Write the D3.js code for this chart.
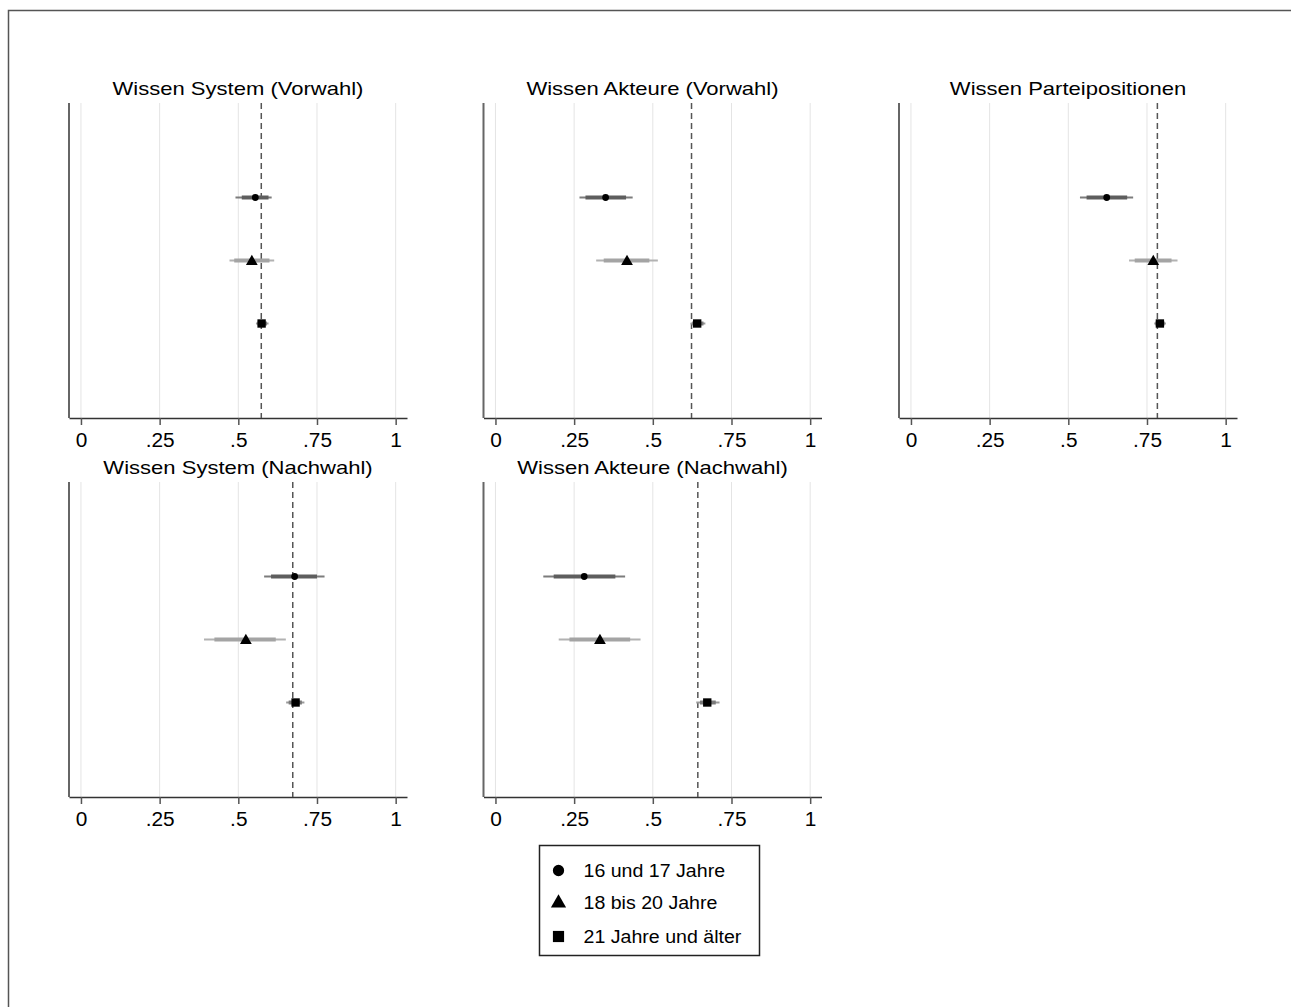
<!DOCTYPE html>
<html>
<head>
<meta charset="utf-8">
<script src="https://cdnjs.cloudflare.com/ajax/libs/d3/7.8.5/d3.min.js"></script>
<style>
  body { margin: 0; background: #fff; }
  svg text { font-family: "Liberation Sans", Arial, sans-serif; fill: #000; }
</style>
</head>
<body>
<svg width="1291" height="1007"></svg>
<script>
// panel titles, in drawing order (row by row)
var panelTitles = ["Wissen System (Vorwahl)", "Wissen Akteure (Vorwahl)", "Wissen Parteipositionen",
                   "Wissen System (Nachwahl)", "Wissen Akteure (Nachwahl)"];
var groups = ["16 und 17 Jahre", "18 bis 20 Jahre", "21 Jahre und älter"];
var xTicks = [0, 0.25, 0.5, 0.75, 1];
var xTickLabels = ["0", ".25", ".5", ".75", "1"];

// overall mean (dashed line) per panel
var refLine = [0.573, 0.623, 0.783, 0.673, 0.643];

// 16 und 17 Jahre
var est16   = [0.554, 0.350, 0.622, 0.679, 0.282];
var outLo16 = [0.491, 0.267, 0.537, 0.582, 0.152];
var outHi16 = [0.606, 0.436, 0.706, 0.774, 0.412];
var inLo16  = [0.511, 0.286, 0.558, 0.604, 0.185];
var inHi16  = [0.596, 0.415, 0.687, 0.750, 0.381];

// 18 bis 20 Jahre
var est18   = [0.543, 0.418, 0.770, 0.524, 0.332];
var outLo18 = [0.472, 0.320, 0.693, 0.391, 0.201];
var outHi18 = [0.614, 0.516, 0.847, 0.651, 0.461];
var inLo18  = [0.487, 0.344, 0.711, 0.424, 0.235];
var inHi18  = [0.599, 0.489, 0.828, 0.619, 0.428];

// 21 Jahre und älter
var est21   = [0.574, 0.641, 0.791, 0.682, 0.673];
var outLo21 = [0.556, 0.620, 0.773, 0.652, 0.638];
var outHi21 = [0.596, 0.667, 0.810, 0.710, 0.712];
var inLo21  = [0.561, 0.625, 0.777, 0.660, 0.650];
var inHi21  = [0.591, 0.661, 0.806, 0.702, 0.700];

var series = [
    { est: est16, outLo: outLo16, outHi: outHi16, inLo: inLo16, inHi: inHi16, shape: "circle",
      thick: "#5e5e5e", thin: "#7c7c7c" },
    { est: est18, outLo: outLo18, outHi: outHi18, inLo: inLo18, inHi: inHi18, shape: "triangle",
      thick: "#a4a4a4", thin: "#b2b2b2" },
    { est: est21, outLo: outLo21, outHi: outHi21, inLo: inLo21, inHi: inHi21, shape: "square",
      thick: "#7a7a7a", thin: "#9a9a9a" }
];

var svg = d3.select("svg");

// outer frame (cut off at right and bottom like the source)
svg.append("rect")
    .attr("x", 8.5).attr("y", 10.5)
    .attr("width", 1300).attr("height", 1020)
    .attr("fill", "none").attr("stroke", "#555").attr("stroke-width", 1.5);

var colLeft = [69, 483.5, 899];
var rowTop = [103, 482];
var plotW = 338, plotH = 315;

var x = d3.scaleLinear().domain([-0.038, 1.036]).range([0, plotW]);
var y = d3.scaleLinear().domain([-0.5, 4.5]).range([0, plotH]);

function stretchText(sel, sx) {
    sel.attr("transform", function() {
        var t = d3.select(this).attr("data-t") || "";
        return t + " scale(" + sx + ",1)";
    });
}

function markerPath(shape, size) {
    var sym = shape == "circle" ? d3.symbolCircle : shape == "triangle" ? d3.symbolTriangle : d3.symbolSquare;
    return d3.symbol().type(sym).size(size)();
}

panelTitles.forEach(function(title, p) {
    var col = p % 3, row = Math.floor(p / 3);
    var g = svg.append("g").attr("transform", "translate(" + colLeft[col] + "," + rowTop[row] + ")");

    // title
    g.append("text")
        .attr("data-t", "translate(" + (plotW / 2) + ",-8.5)")
        .attr("text-anchor", "middle")
        .style("font-size", "19px")
        .text(title)
        .call(stretchText, 1.16);

    // grid lines
    g.selectAll(".grid").data(xTicks).enter().append("line")
        .attr("x1", function(d) { return x(d); })
        .attr("x2", function(d) { return x(d); })
        .attr("y1", 0).attr("y2", plotH)
        .attr("stroke", "#e4e4e4").attr("stroke-width", 1);

    // x axis
    var ax = g.append("g").attr("transform", "translate(0," + plotH + ")")
        .call(d3.axisBottom(x).tickValues(xTicks)
            .tickFormat(function(d, i) { return xTickLabels[i]; })
            .tickSizeOuter(0).tickSizeInner(7).tickPadding(8));
    ax.select(".domain").attr("stroke", "#333").attr("stroke-width", 1.5);
    ax.selectAll(".tick line").attr("stroke", "#555").attr("stroke-width", 1.5);
    ax.selectAll(".tick text")
        .style("font-size", "19.5px").style("font-family", "Liberation Sans, Arial, sans-serif")
        .attr("fill", "#000")
        .attr("transform", "scale(1.07,1)");

    // y axis line (no ticks)
    g.append("line")
        .attr("x1", 0).attr("x2", 0).attr("y1", 0).attr("y2", plotH)
        .attr("stroke", "#666").attr("stroke-width", 2);

    // reference (dashed) line
    g.append("line")
        .attr("x1", x(refLine[p])).attr("x2", x(refLine[p]))
        .attr("y1", 0).attr("y2", plotH)
        .attr("stroke", "#555").attr("stroke-width", 1.5)
        .attr("stroke-dasharray", "6,4");

    series.forEach(function(s, i) {
        var cy = y(i + 1);
        g.append("line")
            .attr("x1", x(s.outLo[p])).attr("x2", x(s.outHi[p]))
            .attr("y1", cy).attr("y2", cy)
            .attr("stroke", s.thin).attr("stroke-width", 2);
        g.append("line")
            .attr("x1", x(s.inLo[p])).attr("x2", x(s.inHi[p]))
            .attr("y1", cy).attr("y2", cy)
            .attr("stroke", s.thick).attr("stroke-width", 4);
        var size = s.shape == "circle" ? 36 : s.shape == "triangle" ? 60 : 70;
        g.append("path")
            .attr("d", markerPath(s.shape, size))
            .attr("transform", "translate(" + x(s.est[p]) + "," + (cy + (s.shape == "triangle" ? 1 : 0)) + ")")
            .attr("fill", "#000");
    });
});

// legend
var lg = svg.append("g").attr("transform", "translate(539.5,845.5)");
lg.append("rect")
    .attr("width", 220).attr("height", 110)
    .attr("fill", "#fff").attr("stroke", "#222").attr("stroke-width", 1.5);
var legendY = [25, 56.5, 91];
groups.forEach(function(name, i) {
    var shape = series[i].shape;
    var size = shape == "circle" ? 100 : shape == "triangle" ? 100 : 125;
    lg.append("path")
        .attr("d", markerPath(shape, size))
        .attr("transform", "translate(19," + (legendY[i] + (shape == "triangle" ? 1 : 0)) + ")")
        .attr("fill", "#000");
    lg.append("text")
        .attr("data-t", "translate(44," + (legendY[i] + 6.5) + ")")
        .style("font-size", "17.5px")
        .text(name)
        .call(stretchText, 1.12);
});
</script>
</body>
</html>
